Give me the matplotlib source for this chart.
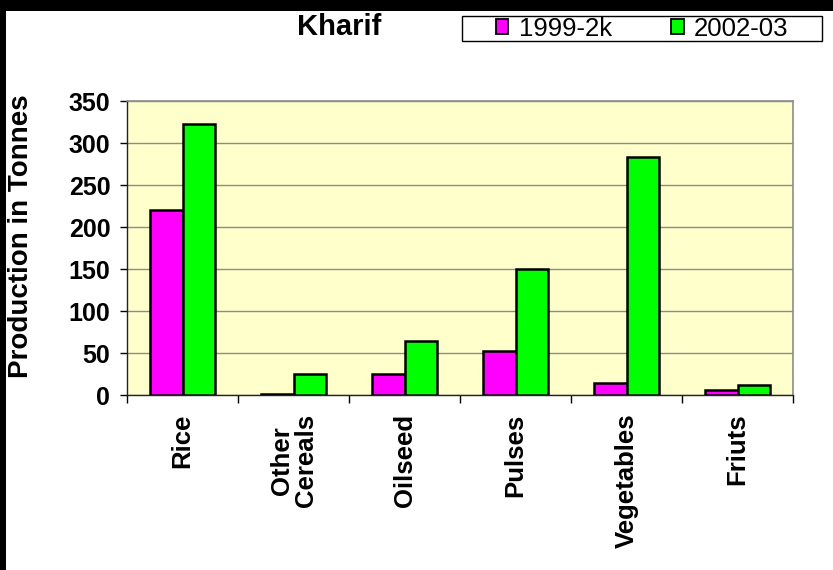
"""
Kharif production chart: 1999-2k vs 2002-03, grouped bars.
"""
import numpy as np
import matplotlib
matplotlib.use("Agg")
import matplotlib.pyplot as plt
from matplotlib.patches import Rectangle

# data
crops = ["Rice", "Other\nCereals", "Oilseed", "Pulses", "Vegetables", "Friuts"]
prod_1999 = [220, 2, 26, 53, 15, 6]
prod_2002 = [323, 26, 65, 150, 283, 12]
series_names = ["1999-2k", "2002-03"]
y_ticks = [0, 50, 100, 150, 200, 250, 300, 350]

MAGENTA = "#FF00FF"
GREEN = "#00FF00"
PLOT_BG = "#FFFFCC"
GRID = "#8C8C8C"

plt.rcParams["font.family"] = ["Liberation Sans", "DejaVu Sans"]

W, H = 833, 570
# small epsilon so the canvas is not truncated to 832x569
fig = plt.figure(figsize=(W / 100 + 1e-3, H / 100 + 1e-3), dpi=100)
fig.patch.set_facecolor("white")

# black frame strips (top and left), as in the screenshot
fig.add_artist(Rectangle((0, 1 - 11 / H), 1, 11 / H, transform=fig.transFigure,
                         facecolor="black", edgecolor="none", zorder=0))
fig.add_artist(Rectangle((0, 0), 6 / W, 1, transform=fig.transFigure,
                         facecolor="black", edgecolor="none", zorder=0))

left, right, top, bottom = 127, 793, 101, 395.5
ax = fig.add_axes([left / W, (H - bottom) / H, (right - left) / W, (bottom - top) / H])
ax.set_facecolor(PLOT_BG)

x = np.arange(len(crops))
bw = 0.29
b1 = ax.bar(x - bw / 2, prod_1999, bw, color=MAGENTA, edgecolor="black",
            linewidth=1.8, label=series_names[0], zorder=3)
b2 = ax.bar(x + bw / 2, prod_2002, bw, color=GREEN, edgecolor="black",
            linewidth=1.8, label=series_names[1], zorder=3)

ax.set_xlim(-0.5, len(crops) - 0.5)
ax.set_ylim(0, 350)
ax.set_yticks(y_ticks)
ax.set_yticklabels([str(v) for v in y_ticks], fontsize=18, fontweight="bold")
ax.yaxis.grid(True, color=GRID, linewidth=1.0, zorder=0)
ax.set_axisbelow(True)
ax.tick_params(axis="y", direction="out", length=5, width=1, pad=7)

# category labels at centres, tick marks at the boundaries
ax.set_xticks(x)
ax.set_xticklabels(crops, rotation=90, fontsize=18.5, fontweight="bold",
                   va="top", ha="center", linespacing=1.0)
ax.tick_params(axis="x", which="major", length=0, pad=13)
ax.set_xticks(np.arange(-0.5, len(crops), 1.0), minor=True)
ax.tick_params(axis="x", which="minor", direction="out", length=6, width=1)

for side in ("top", "right"):
    ax.spines[side].set_color(GRID)
    ax.spines[side].set_linewidth(1.2)
for side in ("left", "bottom"):
    ax.spines[side].set_color("#222222")
    ax.spines[side].set_linewidth(1.0)

fig.text(21 / W, 1 - 236 / H, "Production in Tonnes", rotation=90,
         fontsize=20, fontweight="bold", ha="center", va="center")

fig.text(339 / W, 1 - 27 / H, "Kharif", fontsize=21, fontweight="bold",
         ha="center", va="center")

# legend box
bx0, bx1, by0, by1 = 462, 822, 16, 41
fig.add_artist(Rectangle((bx0 / W, 1 - by1 / H), (bx1 - bx0) / W, (by1 - by0) / H,
                         transform=fig.transFigure, facecolor="white",
                         edgecolor="black", linewidth=1.0))
leg = fig.legend(handles=[b1, b2], labels=series_names, loc="center",
                 bbox_to_anchor=((bx0 + bx1) / 2 / W, 1 - (by0 + by1) / 2 / H),
                 ncol=2, frameon=False, fontsize=18.5, handlelength=0.5,
                 handleheight=0.5, handletextpad=0.4, columnspacing=2.3,
                 borderpad=0, borderaxespad=0)
for p in leg.get_patches():
    p.set_linewidth(1.3)

fig.savefig("out.png", dpi=100)
